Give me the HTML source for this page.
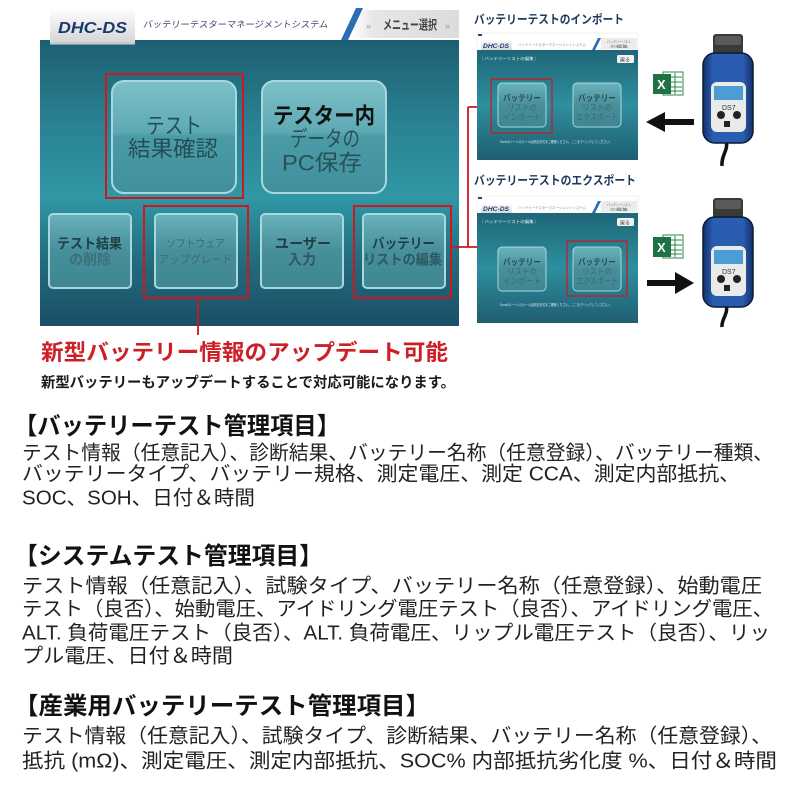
<!DOCTYPE html>
<html><head><meta charset="utf-8">
<style>
html,body{margin:0;padding:0;background:#fff;}
svg{display:block;}
text{font-family:"Liberation Sans","Noto Sans CJK JP",sans-serif;}
</style></head>
<body>
<svg width="800" height="800" viewBox="0 0 800 800" xmlns="http://www.w3.org/2000/svg">
<defs>
<linearGradient id="teal" x1="0" y1="0" x2="0" y2="1">
<stop offset="0" stop-color="#1c5f72"/>
<stop offset="0.3" stop-color="#2a8293"/>
<stop offset="0.55" stop-color="#3097a5"/>
<stop offset="0.75" stop-color="#22707f"/>
<stop offset="1" stop-color="#1b4e66"/>
</linearGradient>
<linearGradient id="teal2" x1="0" y1="0" x2="0" y2="1">
<stop offset="0" stop-color="#1e6678"/>
<stop offset="0.5" stop-color="#2e8f9e"/>
<stop offset="1" stop-color="#1f5d72"/>
</linearGradient>
<linearGradient id="btn" x1="0" y1="0" x2="0" y2="1">
<stop offset="0" stop-color="#7cc0c8"/>
<stop offset="0.45" stop-color="#5eaab4"/>
<stop offset="0.5" stop-color="#4a9ba6"/>
<stop offset="1" stop-color="#3f909c"/>
</linearGradient>
<linearGradient id="sbtn" x1="0" y1="0" x2="0" y2="1">
<stop offset="0" stop-color="#6bb3bc"/>
<stop offset="0.5" stop-color="#468f9b"/>
<stop offset="1" stop-color="#3d8692"/>
</linearGradient>
<linearGradient id="tab" x1="0" y1="0" x2="0" y2="1">
<stop offset="0" stop-color="#ffffff"/>
<stop offset="1" stop-color="#d4d4d4"/>
</linearGradient>
<linearGradient id="menu" x1="0" y1="0" x2="1" y2="0">
<stop offset="0" stop-color="#ffffff"/>
<stop offset="0.2" stop-color="#e6e6e6"/>
<stop offset="1" stop-color="#dcdcdc"/>
</linearGradient>
<linearGradient id="blue" x1="0" y1="0" x2="1" y2="0">
<stop offset="0" stop-color="#14306a"/>
<stop offset="0.2" stop-color="#2a5cb0"/>
<stop offset="0.8" stop-color="#2a5cb0"/>
<stop offset="1" stop-color="#14306a"/>
</linearGradient>
</defs>

<!-- ===== Main screenshot ===== -->
<rect x="40" y="8" width="419" height="32" fill="#ffffff"/>
<rect x="40" y="40" width="419" height="286" fill="url(#teal)"/>
<rect x="50" y="8" width="85" height="36" fill="url(#tab)"/>
<rect x="50" y="42" width="85" height="3" fill="#b9c4c8" opacity="0.6"/>
<text x="58" y="33" font-size="16" font-weight="bold" font-style="italic" fill="#1b3a6b" textLength="69" lengthAdjust="spacingAndGlyphs">DHC-DS</text>
<text x="143" y="27.5" font-size="9" fill="#3a4a6a" textLength="185" lengthAdjust="spacingAndGlyphs" transform="skewX(-8) translate(3.8,0)">バッテリーテスターマネージメントシステム</text>
<rect x="352" y="10" width="107" height="28" fill="url(#menu)"/>
<polygon points="341,40 348,40 363,8 356,8" fill="#2b6fb2"/>
<text x="366" y="29" font-size="9" fill="#999">»</text>
<text x="383" y="29.5" font-size="13" font-weight="bold" fill="#444" textLength="54" lengthAdjust="spacingAndGlyphs">メニュー選択</text>
<text x="445" y="29" font-size="9" fill="#999">»</text>

<!-- big buttons -->
<rect x="112" y="81" width="124" height="112" rx="12" fill="url(#btn)" stroke="#a8d8dd" stroke-width="2"/>
<rect x="262" y="81" width="124" height="112" rx="12" fill="url(#btn)" stroke="#a8d8dd" stroke-width="2"/>
<text x="146" y="133.4" font-size="22" fill="#244e57" textLength="56" lengthAdjust="spacingAndGlyphs">テスト</text>
<text x="128" y="156.4" font-size="22" fill="#244e57" textLength="90" lengthAdjust="spacingAndGlyphs">結果確認</text>
<text x="273" y="123.5" font-size="22" font-weight="bold" fill="#111" textLength="102" lengthAdjust="spacingAndGlyphs">テスター内</text>
<text x="290" y="146.5" font-size="22" fill="#2a5058" textLength="70" lengthAdjust="spacingAndGlyphs">データの</text>
<text x="282" y="170.5" font-size="22" fill="#2a5058" textLength="80" lengthAdjust="spacingAndGlyphs">PC保存</text>
<rect x="106" y="74" width="137" height="124" fill="none" stroke="#d0161f" stroke-width="2"/>

<!-- small buttons -->
<rect x="49" y="214" width="82" height="74" rx="4" fill="url(#sbtn)" stroke="#a8d8dd" stroke-width="2"/>
<rect x="155" y="214" width="82" height="74" rx="4" fill="url(#sbtn)" stroke="#a8d8dd" stroke-width="2"/>
<rect x="261" y="214" width="82" height="74" rx="4" fill="url(#sbtn)" stroke="#a8d8dd" stroke-width="2"/>
<rect x="363" y="214" width="82" height="74" rx="4" fill="url(#sbtn)" stroke="#a8d8dd" stroke-width="2"/>
<text x="57" y="248.3" font-size="14" font-weight="bold" fill="#1f3f45" textLength="65" lengthAdjust="spacingAndGlyphs">テスト結果</text>
<text x="69" y="264.3" font-size="14" font-weight="bold" fill="#3f6f78" textLength="42" lengthAdjust="spacingAndGlyphs">の削除</text>
<text x="166" y="247" font-size="11" fill="#3d6b73" textLength="59" lengthAdjust="spacingAndGlyphs">ソフトウェア</text>
<text x="159" y="263" font-size="11" fill="#3d6b73" textLength="73" lengthAdjust="spacingAndGlyphs">アップグレード</text>
<text x="275" y="248.3" font-size="14" font-weight="bold" fill="#1f3f45" textLength="56" lengthAdjust="spacingAndGlyphs">ユーザー</text>
<text x="288" y="264.3" font-size="14" font-weight="bold" fill="#2d5a62" textLength="28" lengthAdjust="spacingAndGlyphs">入力</text>
<text x="372" y="248.3" font-size="14" font-weight="bold" fill="#1f3f45" textLength="63" lengthAdjust="spacingAndGlyphs">バッテリー</text>
<text x="363" y="264.3" font-size="14" font-weight="bold" fill="#2d5a62" textLength="79" lengthAdjust="spacingAndGlyphs">リストの編集</text>
<rect x="144" y="206" width="104" height="92" fill="none" stroke="#d0161f" stroke-width="2"/>
<rect x="354" y="206" width="97" height="92" fill="none" stroke="#d0161f" stroke-width="2"/>

<!-- red connectors -->
<path d="M198,298 V335" stroke="#d0161f" stroke-width="1.8" fill="none"/>
<path d="M451,247 H478 M468,107 V247 M468,107 H478" stroke="#d0161f" stroke-width="1.8" fill="none"/>

<!-- red heading -->
<text x="41" y="360" font-size="22" font-weight="bold" fill="#cc1f26" textLength="407" lengthAdjust="spacingAndGlyphs">新型バッテリー情報のアップデート可能</text>
<text x="41" y="387.5" font-size="14.5" font-weight="bold" fill="#1a1a1a" textLength="414" lengthAdjust="spacingAndGlyphs">新型バッテリーもアップデートすることで対応可能になります。</text>

<!-- ===== Right: import ===== -->
<text x="474" y="23.5" font-size="12" font-weight="bold" fill="#1b3a5c" textLength="150" lengthAdjust="spacingAndGlyphs">バッテリーテストのインポート</text>
<rect x="477" y="33" width="161" height="17" fill="#fff" stroke="#e2e2e2" stroke-width="0.5"/>
<rect x="478" y="34" width="4" height="2" fill="#345"/>
<rect x="481" y="40" width="31" height="11" fill="url(#tab)"/>
<text x="483" y="48" font-size="6" font-weight="bold" font-style="italic" fill="#1a3a70" textLength="26" lengthAdjust="spacingAndGlyphs">DHC-DS</text>
<text x="518" y="46" font-size="3.5" fill="#8a8a8a" textLength="68" lengthAdjust="spacingAndGlyphs">バッテリーテスターマネージメントシステム</text>
<polygon points="592,50 595,50 601,38 598,38" fill="#2b6fb2"/>
<rect x="601" y="38" width="36" height="11" fill="#ececec"/>
<text x="607" y="43" font-size="3.5" fill="#666" textLength="24" lengthAdjust="spacingAndGlyphs">バッテリーリスト</text>
<text x="610" y="47.5" font-size="3.5" fill="#666" textLength="18" lengthAdjust="spacingAndGlyphs">の編集</text>
<rect x="477" y="50" width="161" height="110" fill="url(#teal2)"/>
<text x="480" y="60" font-size="4" fill="#e6f2f4" textLength="58" lengthAdjust="spacingAndGlyphs">｜バッテリーリストの編集｜</text>
<rect x="617" y="55" width="17" height="8" rx="1.5" fill="#f2f2f2"/>
<text x="620" y="61.5" font-size="5" fill="#333">戻る</text>
<rect x="498" y="83" width="48" height="44" rx="4" fill="url(#sbtn)" stroke="#a8d8dd" stroke-width="1"/>
<rect x="573" y="83" width="48" height="44" rx="4" fill="url(#sbtn)" stroke="#a8d8dd" stroke-width="1"/>
<text x="503" y="101" font-size="8.5" font-weight="bold" fill="#2a4a50" textLength="38" lengthAdjust="spacingAndGlyphs">バッテリー</text>
<text x="507" y="110.5" font-size="8.5" fill="#3e6870" textLength="30" lengthAdjust="spacingAndGlyphs">リストの</text>
<text x="503" y="120" font-size="8.5" fill="#3e6870" textLength="38" lengthAdjust="spacingAndGlyphs">インポート</text>
<text x="578" y="101" font-size="8.5" font-weight="bold" fill="#2a4a50" textLength="38" lengthAdjust="spacingAndGlyphs">バッテリー</text>
<text x="582" y="110.5" font-size="8.5" fill="#3e6870" textLength="30" lengthAdjust="spacingAndGlyphs">リストの</text>
<text x="576" y="120" font-size="8.5" fill="#3e6870" textLength="42" lengthAdjust="spacingAndGlyphs">エクスポート</text>
<text x="500" y="143" font-size="3.5" fill="#d8ecef" textLength="112" lengthAdjust="spacingAndGlyphs">Excelのシートのルールは所定形式をご確認ください。ここをクリックしてください。</text>
<rect x="491" y="79" width="61" height="54" fill="none" stroke="#d0161f" stroke-width="1.2"/>

<!-- excel 1 -->
<rect x="663" y="72" width="20" height="23" fill="#fff" stroke="#2a8a4e" stroke-width="1"/>
<path d="M668,77 H682 M668,82 H682 M668,87 H682 M668,91 H682 M675,73 V94" stroke="#2a8a4e" stroke-width="1"/>
<rect x="653" y="74" width="18" height="20" fill="#1f7244"/>
<text x="657" y="89" font-size="13" font-weight="bold" fill="#fff">X</text>
<!-- arrow left -->
<rect x="663" y="119" width="31" height="6" fill="#111"/>
<polygon points="646,122 665,112 665,132" fill="#111"/>

<!-- device 1 -->
<g>
<path d="M726,140 C729,150 721,155 722,166" stroke="#111" stroke-width="3.5" fill="none"/>
<rect x="713" y="34" width="30" height="26" rx="3" fill="#3a3a3a"/>
<rect x="715" y="36" width="26" height="9" rx="2" fill="#5a5a5a"/>
<rect x="703" y="53" width="50" height="90" rx="12" fill="url(#blue)" stroke="#0b1a33" stroke-width="1.5"/>
<rect x="711" y="82" width="35" height="50" rx="6" fill="#e9ebeb"/>
<rect x="714" y="86" width="29" height="14" fill="#4c9cd6"/>
<text x="722" y="110" font-size="7" fill="#333">DS7</text>
<circle cx="721" cy="115" r="4" fill="#222"/>
<circle cx="737" cy="115" r="4" fill="#222"/>
<rect x="724" y="121" width="6" height="6" fill="#222"/>
</g>

<!-- ===== Right: export ===== -->
<text x="474" y="184.5" font-size="12" font-weight="bold" fill="#1b3a5c" textLength="162" lengthAdjust="spacingAndGlyphs">バッテリーテストのエクスポート</text>
<rect x="477" y="196" width="161" height="17" fill="#fff" stroke="#e2e2e2" stroke-width="0.5"/>
<rect x="478" y="197" width="4" height="2" fill="#345"/>
<rect x="481" y="203" width="31" height="11" fill="url(#tab)"/>
<text x="483" y="211" font-size="6" font-weight="bold" font-style="italic" fill="#1a3a70" textLength="26" lengthAdjust="spacingAndGlyphs">DHC-DS</text>
<text x="518" y="209" font-size="3.5" fill="#8a8a8a" textLength="68" lengthAdjust="spacingAndGlyphs">バッテリーテスターマネージメントシステム</text>
<polygon points="592,213 595,213 601,201 598,201" fill="#2b6fb2"/>
<rect x="601" y="201" width="36" height="11" fill="#ececec"/>
<text x="607" y="206" font-size="3.5" fill="#666" textLength="24" lengthAdjust="spacingAndGlyphs">バッテリーリスト</text>
<text x="610" y="210.5" font-size="3.5" fill="#666" textLength="18" lengthAdjust="spacingAndGlyphs">の編集</text>
<rect x="477" y="213" width="161" height="110" fill="url(#teal2)"/>
<text x="480" y="223" font-size="4" fill="#e6f2f4" textLength="58" lengthAdjust="spacingAndGlyphs">｜バッテリーリストの編集｜</text>
<rect x="617" y="218" width="17" height="8" rx="1.5" fill="#f2f2f2"/>
<text x="620" y="224.5" font-size="5" fill="#333">戻る</text>
<rect x="498" y="247" width="48" height="44" rx="4" fill="url(#sbtn)" stroke="#a8d8dd" stroke-width="1"/>
<rect x="573" y="247" width="48" height="44" rx="4" fill="url(#sbtn)" stroke="#a8d8dd" stroke-width="1"/>
<text x="503" y="265" font-size="8.5" font-weight="bold" fill="#2a4a50" textLength="38" lengthAdjust="spacingAndGlyphs">バッテリー</text>
<text x="507" y="274.5" font-size="8.5" fill="#3e6870" textLength="30" lengthAdjust="spacingAndGlyphs">リストの</text>
<text x="503" y="284" font-size="8.5" fill="#3e6870" textLength="38" lengthAdjust="spacingAndGlyphs">インポート</text>
<text x="578" y="265" font-size="8.5" font-weight="bold" fill="#2a4a50" textLength="38" lengthAdjust="spacingAndGlyphs">バッテリー</text>
<text x="582" y="274.5" font-size="8.5" fill="#3e6870" textLength="30" lengthAdjust="spacingAndGlyphs">リストの</text>
<text x="576" y="284" font-size="8.5" fill="#3e6870" textLength="42" lengthAdjust="spacingAndGlyphs">エクスポート</text>
<text x="500" y="306" font-size="3.5" fill="#d8ecef" textLength="112" lengthAdjust="spacingAndGlyphs">Excelのシートのルールは所定形式をご確認ください。ここをクリックしてください。</text>
<rect x="567" y="241" width="60" height="55" fill="none" stroke="#d0161f" stroke-width="1.2"/>

<!-- excel 2 -->
<rect x="663" y="235" width="20" height="23" fill="#fff" stroke="#2a8a4e" stroke-width="1"/>
<path d="M668,240 H682 M668,245 H682 M668,250 H682 M668,254 H682 M675,236 V257" stroke="#2a8a4e" stroke-width="1"/>
<rect x="653" y="237" width="18" height="20" fill="#1f7244"/>
<text x="657" y="252" font-size="13" font-weight="bold" fill="#fff">X</text>
<!-- arrow right -->
<rect x="647" y="280" width="31" height="6" fill="#111"/>
<polygon points="694,283 675,272 675,294" fill="#111"/>

<!-- device 2 -->
<g transform="translate(0,164)">
<path d="M726,140 C729,150 721,155 722,163" stroke="#111" stroke-width="3.5" fill="none"/>
<rect x="713" y="34" width="30" height="26" rx="3" fill="#3a3a3a"/>
<rect x="715" y="36" width="26" height="9" rx="2" fill="#5a5a5a"/>
<rect x="703" y="53" width="50" height="90" rx="12" fill="url(#blue)" stroke="#0b1a33" stroke-width="1.5"/>
<rect x="711" y="82" width="35" height="50" rx="6" fill="#e9ebeb"/>
<rect x="714" y="86" width="29" height="14" fill="#4c9cd6"/>
<text x="722" y="110" font-size="7" fill="#333">DS7</text>
<circle cx="721" cy="115" r="4" fill="#222"/>
<circle cx="737" cy="115" r="4" fill="#222"/>
<rect x="724" y="121" width="6" height="6" fill="#222"/>
</g>

<!-- ===== Text sections ===== -->
<text x="14" y="434" font-size="24" font-weight="bold" fill="#111" textLength="326" lengthAdjust="spacingAndGlyphs">【バッテリーテスト管理項目】</text>
<text x="22" y="459.6" font-size="20" fill="#222" textLength="751" lengthAdjust="spacingAndGlyphs">テスト情報（任意記入）、診断結果、バッテリー名称（任意登録）、バッテリー種類、</text>
<text x="22" y="480.6" font-size="20" fill="#222" textLength="718" lengthAdjust="spacingAndGlyphs">バッテリータイプ、バッテリー規格、測定電圧、測定 CCA、測定内部抵抗、</text>
<text x="22" y="504.6" font-size="20" fill="#222" textLength="233" lengthAdjust="spacingAndGlyphs">SOC、SOH、日付＆時間</text>

<text x="14" y="564" font-size="24" font-weight="bold" fill="#111" textLength="309" lengthAdjust="spacingAndGlyphs">【システムテスト管理項目】</text>
<text x="22" y="592.6" font-size="20" fill="#222" textLength="740" lengthAdjust="spacingAndGlyphs">テスト情報（任意記入）、試験タイプ、バッテリー名称（任意登録）、始動電圧</text>
<text x="22" y="615.6" font-size="20" fill="#222" textLength="751" lengthAdjust="spacingAndGlyphs">テスト（良否）、始動電圧、アイドリング電圧テスト（良否）、アイドリング電圧、</text>
<text x="22" y="639.6" font-size="20" fill="#222" textLength="748" lengthAdjust="spacingAndGlyphs">ALT. 負荷電圧テスト（良否）、ALT. 負荷電圧、リップル電圧テスト（良否）、リッ</text>
<text x="22" y="662.6" font-size="20" fill="#222" textLength="211" lengthAdjust="spacingAndGlyphs">プル電圧、日付＆時間</text>

<text x="14" y="714" font-size="24" font-weight="bold" fill="#111" textLength="416" lengthAdjust="spacingAndGlyphs">【産業用バッテリーテスト管理項目】</text>
<text x="22" y="742.6" font-size="20" fill="#222" textLength="750" lengthAdjust="spacingAndGlyphs">テスト情報（任意記入）、試験タイプ、診断結果、バッテリー名称（任意登録）、</text>
<text x="22" y="767.6" font-size="20" fill="#222" textLength="755" lengthAdjust="spacingAndGlyphs">抵抗 (mΩ)、測定電圧、測定内部抵抗、SOC% 内部抵抗劣化度 %、日付＆時間</text>
</svg>
</body></html>
